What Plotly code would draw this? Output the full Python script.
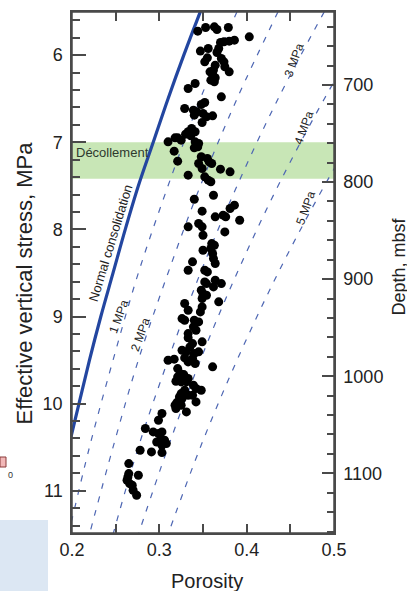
import plotly.graph_objects as go

# ---- data ----
porosity = [0.344,0.353,0.363,0.366,0.379,0.403,0.386,0.380,0.374,0.370,0.368,0.356,0.347,0.355,0.352,
            0.366,0.371,0.374,0.375,0.380,0.364,0.362,0.361,0.359,0.364,0.341,0.333,0.371,0.352,0.348,
            0.329,0.339,0.343,0.340,0.350,0.354,0.361,0.349,0.337,0.341,0.333,0.330,0.336,0.321,0.318,
            0.325,0.310,0.341,0.345,0.344,0.340,0.317,0.348,0.355,0.357,0.360,0.345,0.321,0.349,0.370,
            0.381,0.333,0.352,0.356,0.359,0.362,0.340,0.349,0.386,0.381,0.373,0.376,0.392,0.364,0.333,
            0.345,0.349,0.350,0.375,0.360,0.363,0.359,0.350,0.361,0.362,0.364,0.338,0.333,0.352,0.355,
            0.352,0.354,0.364,0.371,0.362,0.348,0.350,0.354,0.349,0.368,0.329,0.333,0.349,0.347,0.326,
            0.329,0.340,0.345,0.339,0.342,0.333,0.333,0.349,0.338,0.335,0.326,0.331,0.345,0.340,0.338,
            0.329,0.317,0.310,0.333,0.341,0.361,0.321,0.324,0.328,0.321,0.333,0.319,0.325,0.331,0.339,
            0.342,0.348,0.329,0.325,0.323,0.333,0.338,0.326,0.320,0.318,0.325,0.319,0.331,0.342,0.303,
            0.299,0.284,0.293,0.299,0.303,0.302,0.306,0.308,0.303,0.297,0.278,0.291,0.303,0.265,0.276,
            0.264,0.263,0.266,0.269,0.270,0.274,0.265,0.358,0.363]
stress = [5.725,5.683,5.675,5.706,5.683,5.790,5.828,5.840,5.847,5.855,5.924,5.924,5.954,6.031,6.077,
          5.970,6.039,6.077,6.134,6.192,6.115,6.172,6.222,6.287,6.260,6.326,6.383,6.479,6.544,6.567,
          6.613,6.632,6.651,6.689,6.670,6.708,6.697,6.773,6.842,6.880,6.880,6.907,6.926,6.949,6.949,
          6.976,6.995,6.995,7.014,7.053,7.064,7.102,7.167,7.187,7.225,7.244,7.244,7.217,7.301,7.309,
          7.340,7.378,7.397,7.435,7.454,7.608,7.654,7.791,7.722,7.761,7.837,7.856,7.895,7.856,7.971,
          7.933,7.971,8.067,8.029,8.163,8.182,8.220,8.239,8.277,8.335,8.392,8.373,8.469,8.469,8.488,
          8.603,8.622,8.583,8.622,8.660,8.698,8.737,8.756,8.794,8.832,8.851,8.928,8.890,8.947,9.024,
          9.043,9.043,9.062,9.119,9.158,9.196,9.245,9.291,9.311,9.349,9.387,9.406,9.406,9.425,9.483,
          9.475,9.490,9.502,9.521,9.540,9.578,9.598,9.655,9.667,9.693,9.712,9.743,9.751,9.751,9.789,
          9.827,9.846,9.846,9.885,9.923,9.904,9.904,9.942,9.988,10.019,10.019,10.057,10.095,9.980,10.114,
          10.191,10.286,10.325,10.344,10.325,10.401,10.420,10.459,10.478,10.440,10.535,10.554,10.562,10.688,10.822,
          10.841,10.880,10.918,10.937,10.994,11.052,10.803,6.192,6.306]

# Normal consolidation curve (porosity vs effective stress)
ncl_stress = [5.5, 6.0, 6.5, 7.0, 7.5, 8.0, 8.5, 9.0, 9.5, 10.0, 10.5]
ncl_porosity = [0.347, 0.328, 0.310, 0.293, 0.276, 0.261, 0.247, 0.233, 0.220, 0.208, 0.196]

# Overpressure lines (1-5 MPa)
op_stress = [5.5, 6.5, 7.5, 8.5, 9.5, 10.5, 11.5]
op_1 = [0.389, 0.347, 0.310, 0.276, 0.247, 0.220, 0.196]
op_2 = [0.436, 0.389, 0.347, 0.310, 0.276, 0.247, 0.220]
op_3 = [0.489, 0.436, 0.389, 0.347, 0.310, 0.276, 0.247]
op_4 = [0.548, 0.489, 0.436, 0.389, 0.347, 0.310, 0.276]
op_5 = [0.614, 0.548, 0.489, 0.436, 0.389, 0.347, 0.310]
op_lines = [op_1, op_2, op_3, op_4, op_5]
op_labels = ["1 MPa", "2 MPa", "3 MPa", "4 MPa", "5 MPa"]

decollement = [7.0, 7.42]       # stress range of the band
stress_ticks = [6, 7, 8, 9, 10, 11]
stress_minor_ticks = [5.6, 5.8, 6.2, 6.4, 6.6, 6.8, 7.2, 7.4, 7.6, 7.8, 8.2, 8.4, 8.6, 8.8,
                      9.2, 9.4, 9.6, 9.8, 10.2, 10.4, 10.6, 10.8, 11.2, 11.4]
depth_ticks = [700, 800, 900, 1000, 1100]
depth_minor_ticks = [640, 660, 680, 720, 740, 760, 780, 820, 840, 860, 880, 920, 940, 960, 980,
                     1020, 1040, 1060, 1080, 1120, 1140, 1160]
x_ticks = [0.2, 0.25, 0.3, 0.35, 0.4, 0.45, 0.5]
x_ticktext = ["0.2", "", "0.3", "", "0.4", "", "0.5"]

FONT = "Liberation Sans, Arial, sans-serif"
FRAME = "#4a4a4a"
L, R, T, B = 72, 73, 12, 58
PW, PH = 407 - L - R, 591 - T - B
STRESS_RANGE = [11.485, 5.505]
DEPTH_RANGE = [1161.5, 624.8]


def px(x):
    return (x - L) / PW


def py(y):
    return (591 - B - y) / PH


fig = go.Figure()

for vals in op_lines:
    fig.add_trace(go.Scatter(x=vals, y=op_stress, mode="lines", line_shape="spline",
                             line=dict(color="#4d66b3", width=1.2, dash="6px,8px"),
                             showlegend=False, hoverinfo="skip"))

fig.add_trace(go.Scatter(x=ncl_porosity, y=ncl_stress, mode="lines", line_shape="spline",
                         line=dict(color="#2346a0", width=3.2), showlegend=False, hoverinfo="skip"))

fig.add_trace(go.Scatter(x=porosity, y=stress, mode="markers",
                         marker=dict(color="black", size=9), showlegend=False))

# invisible traces carrying the depth axis and the minor-tick axes
for ax, vals in (("y2", depth_ticks), ("y3", stress_minor_ticks), ("y4", depth_minor_ticks)):
    fig.add_trace(go.Scatter(x=[0.2] * len(vals), y=vals, yaxis=ax, mode="markers",
                             marker=dict(opacity=0, size=1), showlegend=False, hoverinfo="skip"))

fig.add_shape(type="rect", xref="x", yref="y", x0=0.2, x1=0.5, y0=decollement[0], y1=decollement[1],
              fillcolor="#c8e6b6", line=dict(width=0), layer="below")
# frame
fig.add_shape(type="rect", xref="paper", yref="paper", x0=0, x1=1, y0=0, y1=1,
              line=dict(color=FRAME, width=1.5), fillcolor="rgba(0,0,0,0)")

# stray artefacts at the left edge of the reference image
fig.add_shape(type="rect", xref="paper", yref="paper", x0=px(0), x1=px(48),
              y0=py(591), y1=py(520), fillcolor="#dce7f3", line=dict(width=0))
fig.add_shape(type="rect", xref="paper", yref="paper", x0=px(0), x1=px(6),
              y0=py(467), y1=py(457), fillcolor="#f2b8b8", line=dict(color="#8a3a3a", width=1))
fig.add_annotation(xref="paper", yref="paper", x=px(10), y=py(475), text="0",
                   xanchor="center", yanchor="middle",
                   showarrow=False, font=dict(size=9, color="#333", family=FONT))

# axis titles
title_font = dict(family=FONT, color="#222")
fig.add_annotation(xref="paper", yref="paper", x=px(24), y=py(283.5), text="Effective vertical stress, MPa",
                   xanchor="center", yanchor="middle",
                   textangle=-90, showarrow=False, font=dict(size=22, **title_font))
fig.add_annotation(xref="paper", yref="paper", x=px(206.5), y=py(581), text="Porosity",
                   xanchor="center", yanchor="middle",
                   showarrow=False, font=dict(size=20, **title_font))
fig.add_annotation(xref="paper", yref="paper", x=px(398), y=py(266.5), text="Depth, mbsf",
                   xanchor="center", yanchor="middle",
                   textangle=-90, showarrow=False, font=dict(size=18, **title_font))

ann_font = dict(family=FONT, size=12, color="#222")
fig.add_annotation(x=0.2, y=7.12, xref="x", yref="y", text="Décollement", showarrow=False,
                   xanchor="left", xshift=2, font=dict(family=FONT, size=13, color="#2e3a2e"))
fig.add_annotation(x=0.2439, y=8.16, text="Normal consolidation", showarrow=False, textangle=-73,
                   xanchor="center", yanchor="middle",
                   font=dict(family=FONT, size=13, color="#222"))
label_pos = [(0.253, 9.0), (0.278, 9.21), (0.4546, 6.06), (0.4657, 6.84), (0.468, 7.76)]
for (lx, ly), t in zip(label_pos, op_labels):
    fig.add_annotation(x=lx, y=ly, text=t, showarrow=False, textangle=-70,
                       xanchor="center", yanchor="middle", font=ann_font)

common = dict(tickcolor=FRAME, tickwidth=1.5, showgrid=False, zeroline=False, automargin=False)
fig.update_layout(
    width=407, height=591,
    margin=dict(l=L, r=R, t=T, b=B, autoexpand=False),
    paper_bgcolor="white", plot_bgcolor="white",
    font=dict(family=FONT, size=18, color="#222"),
    xaxis=dict(range=[0.2, 0.5], tickvals=x_ticks, ticktext=x_ticktext, ticks="inside", ticklen=9,
               showline=True, linecolor=FRAME, linewidth=1.5, mirror="ticks",
               tickfont=dict(size=18), **common),
    yaxis=dict(range=STRESS_RANGE, tickvals=stress_ticks, ticks="inside", ticklen=14,
               showline=True, linecolor=FRAME, linewidth=1.5, ticklabelstandoff=4,
               tickfont=dict(size=18), **common),
    yaxis3=dict(range=STRESS_RANGE, overlaying="y", side="left", anchor="x",
                tickvals=stress_minor_ticks, ticks="inside", ticklen=8, showticklabels=False,
                showline=False, **common),
    yaxis2=dict(range=DEPTH_RANGE, overlaying="y", side="right", anchor="x", tickvals=depth_ticks,
                ticks="inside", ticklen=12, showline=True, linecolor=FRAME, linewidth=1.5,
                ticklabelstandoff=4, tickfont=dict(size=18), **common),
    yaxis4=dict(range=DEPTH_RANGE, overlaying="y", side="right", anchor="x",
                tickvals=depth_minor_ticks, ticks="inside", ticklen=7, showticklabels=False,
                showline=False, **common),
)

fig.write_html("out.html", config={"displayModeBar": False},
               post_script="document.body.style.margin='0';document.body.style.padding='0';")
